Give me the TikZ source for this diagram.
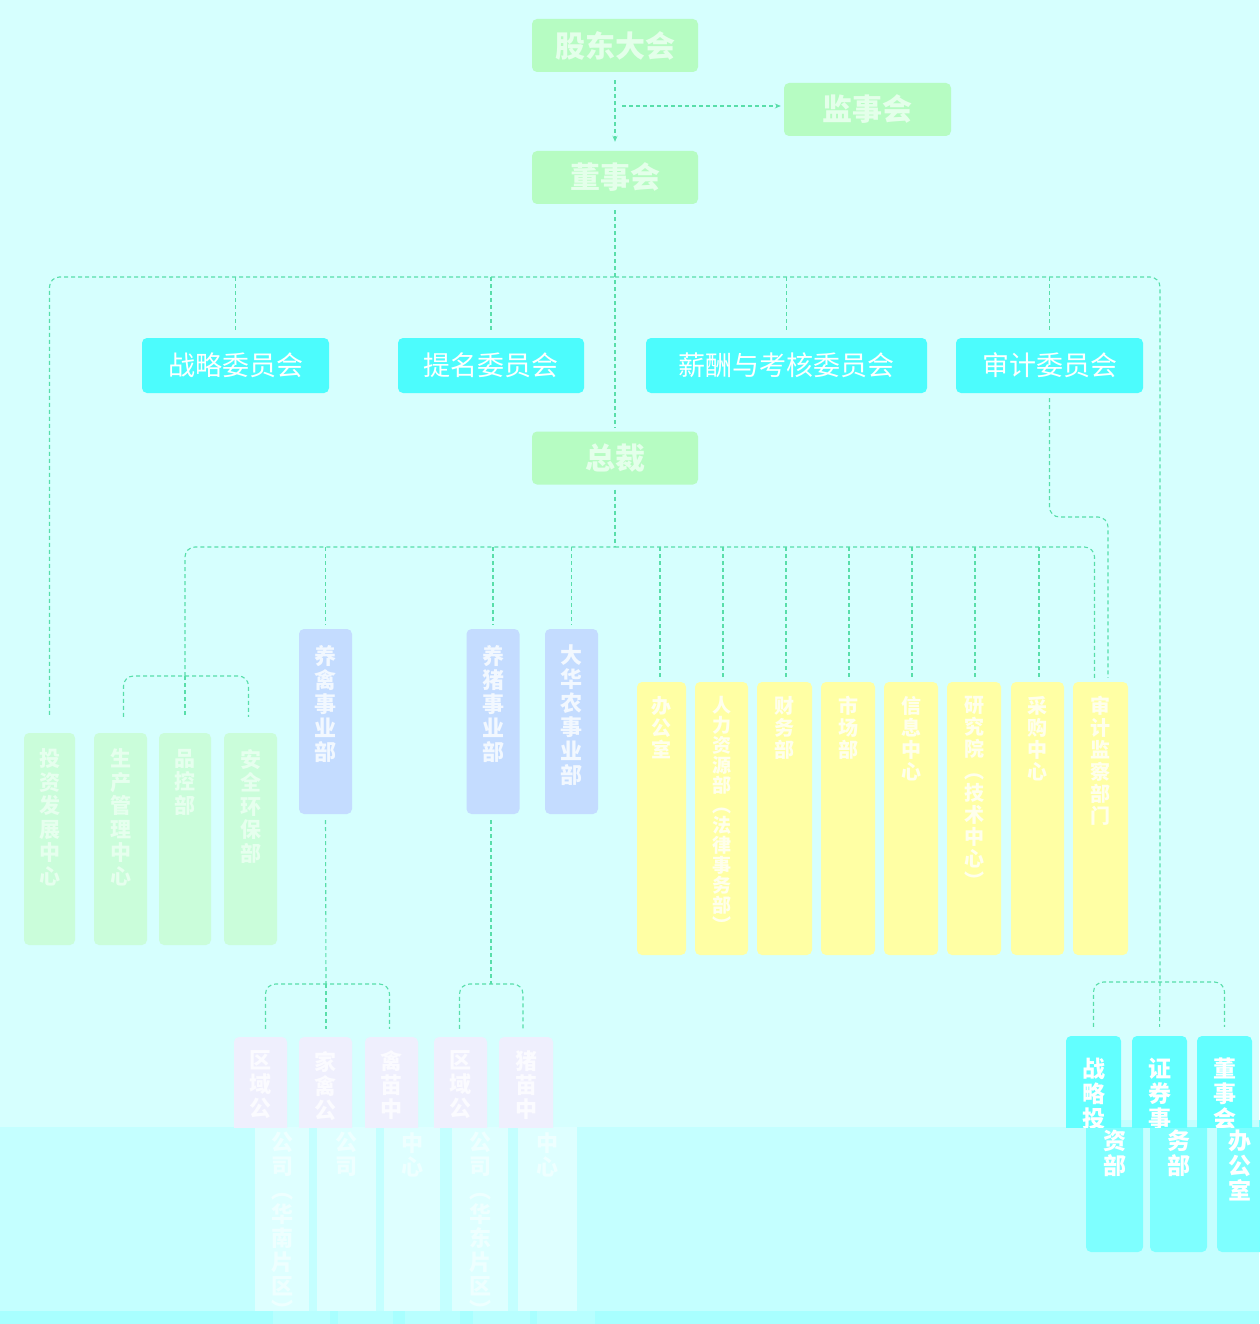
\documentclass[tikz,border=0pt]{standalone}
\usepackage{fontspec}
\setmainfont{Noto Sans CJK SC}
\usetikzlibrary{arrows.meta}
\definecolor{bg}{HTML}{D6FFFE}
\definecolor{bandA}{HTML}{C4FFFF}
\definecolor{bandB}{HTML}{A8FFFF}
\definecolor{bandBpiece}{HTML}{B8FFFF}
\definecolor{topgreen}{HTML}{B6FCC2}
\definecolor{toptext}{HTML}{E4FFEA}
\definecolor{comcyan}{HTML}{4CFCFD}
\definecolor{yel}{HTML}{FFFFA4}
\definecolor{yeltext}{HTML}{FFFFEC}
\definecolor{blu}{HTML}{C4DCFF}
\definecolor{blutext}{HTML}{F2F8FF}
\definecolor{palegreen}{HTML}{CAFDDA}
\definecolor{palegreentext}{HTML}{E6FFEE}
\definecolor{pinkbox}{HTML}{EFEFFD}
\definecolor{pinktext}{HTML}{FBFBFF}
\definecolor{pinklow}{HTML}{DEFFFF}
\definecolor{pinklowtext}{HTML}{EEFFFF}
\definecolor{cyantop}{HTML}{62FFFF}
\definecolor{cyanlow}{HTML}{7EFFFF}
\definecolor{ln}{HTML}{58DEAA}
\begin{document}
\begin{tikzpicture}[x=1pt,y=-1pt,
  box/.style={rectangle, rounded corners=5pt, inner sep=0pt, draw=none},
  topbox/.style={box, fill=topgreen, minimum width=166pt, minimum height=53pt, text=toptext, font=\fontsize{30}{32}\selectfont\bfseries},
  combox/.style={box, fill=comcyan, minimum height=55pt, text=white, font=\fontsize{27}{30}\selectfont},
  bluebox/.style={box, fill=blu, minimum width=53pt, minimum height=185pt},
  yelbox/.style={box, fill=yel, minimum height=273pt},
  gbox/.style={box, fill=palegreen, minimum height=212pt},
  pbox/.style={box, fill=pinkbox, minimum width=53pt, minimum height=112pt},
  cbox/.style={box, fill=cyantop, minimum width=55pt, minimum height=112pt},
  vt/.style={align=center, inner sep=0pt, anchor=north},
  bluetxt/.style={vt, text=blutext, font=\fontsize{22}{24}\selectfont\bfseries},
  yeltxt/.style={vt, text=yeltext, font=\fontsize{20}{22}\selectfont\bfseries},
  gtxt/.style={vt, text=palegreentext, font=\fontsize{21}{23.5}\selectfont\bfseries},
  ptxt/.style={vt, text=pinktext, font=\fontsize{22}{24}\selectfont\bfseries},
  pltxt/.style={vt, text=pinklowtext, font=\fontsize{22}{24}\selectfont\bfseries},
  ctxt/.style={vt, text=white, font=\fontsize{23}{25}\selectfont\bfseries},
  conn/.style={draw=ln, line width=1.1pt, dash pattern=on 4pt off 3pt, rounded corners=10pt},
  arr/.style={-{Stealth[length=6pt,width=5pt]}}
]
\useasboundingbox (0,0) rectangle (1259,1324);
\fill[bg] (0,0) rectangle (1259,1127);
\fill[bandA] (0,1127) rectangle (1259,1311);
\fill[bandB] (0,1311) rectangle (1259,1324);

% ---------- top level ----------
\node[topbox] (gd) at (615,45.5) {股东大会};
\node[topbox, minimum width=167pt] (jsh) at (867.5,109.5) {监事会};
\node[topbox] (dsh) at (615,177.5) {董事会};
\node[topbox] (zc) at (615,458) {总裁};

% ---------- committees ----------
\node[combox, minimum width=187pt] (c1) at (235.5,365.5) {战略委员会};
\node[combox, minimum width=186pt] (c2) at (491,365.5) {提名委员会};
\node[combox, minimum width=281pt] (c3) at (786.5,365.5) {薪酬与考核委员会};
\node[combox, minimum width=187pt] (c4) at (1049.5,365.5) {审计委员会};

% ---------- business divisions ----------
\node[bluebox] (b1) at (325.5,721.5) {};
\node[bluebox] (b2) at (493,721.5) {};
\node[bluebox] (b3) at (571.5,721.5) {};
\node[bluetxt] (b1t) at ([yshift=-16pt]b1.north) {养\\禽\\事\\业\\部};
\node[bluetxt] (b2t) at ([yshift=-16pt]b2.north) {养\\猪\\事\\业\\部};
\node[bluetxt] (b3t) at ([yshift=-16pt]b3.north) {大\\华\\农\\事\\业\\部};

% ---------- functional departments ----------
\node[yelbox, minimum width=49pt] (y1) at (661.5,818.5) {};
\node[yelbox, minimum width=53pt] (y2) at (721.5,818.5) {};
\node[yelbox, minimum width=55pt] (y3) at (784.5,818.5) {};
\node[yelbox, minimum width=54pt] (y4) at (848,818.5) {};
\node[yelbox, minimum width=54pt] (y5) at (911,818.5) {};
\node[yelbox, minimum width=54pt] (y6) at (974,818.5) {};
\node[yelbox, minimum width=53pt] (y7) at (1037.5,818.5) {};
\node[yelbox, minimum width=55pt] (y8) at (1100.5,818.5) {};
\node[yeltxt] (y1t) at ([yshift=-14pt]y1.north) {办\\公\\室};
\node[yeltxt, font=\fontsize{19}{20}\selectfont\bfseries] (y2t) at ([yshift=-14pt]y2.north) {人\\力\\资\\源\\部\\︵\\法\\律\\事\\务\\部\\︶};
\node[yeltxt] (y3t) at ([yshift=-14pt]y3.north) {财\\务\\部};
\node[yeltxt] (y4t) at ([yshift=-14pt]y4.north) {市\\场\\部};
\node[yeltxt] (y5t) at ([yshift=-14pt]y5.north) {信\\息\\中\\心};
\node[yeltxt] (y6t) at ([yshift=-14pt]y6.north) {研\\究\\院\\︵\\技\\术\\中\\心\\︶};
\node[yeltxt] (y7t) at ([yshift=-14pt]y7.north) {采\\购\\中\\心};
\node[yeltxt] (y8t) at ([yshift=-14pt]y8.north) {审\\计\\监\\察\\部\\门};

% ---------- pale green boxes ----------
\node[gbox, minimum width=51pt] (g1) at (49.5,839) {};
\node[gbox, minimum width=53pt] (g2) at (120.5,839) {};
\node[gbox, minimum width=52pt] (g3) at (185,839) {};
\node[gbox, minimum width=53pt] (g4) at (250.5,839) {};
\node[gtxt] (g1t) at ([yshift=-16pt]g1.north) {投\\资\\发\\展\\中\\心};
\node[gtxt] (g2t) at ([yshift=-16pt]g2.north) {生\\产\\管\\理\\中\\心};
\node[gtxt] (g3t) at ([yshift=-16pt]g3.north) {品\\控\\部};
\node[gtxt] (g4t) at ([yshift=-16pt]g4.north) {安\\全\\环\\保\\部};

% ---------- lower parts (shifted band) ----------
\foreach \xa/\xb in {255/309, 317/376, 384/440, 452/508, 518/577}{
  \fill[pinklow] (\xa,1127) rectangle (\xb,1311);
}
\foreach \xa/\xb in {273/330, 338/393, 405/460, 473/530, 537/595}{
  \fill[bandBpiece] (\xa,1311) rectangle (\xb,1324);
}
\fill[cyanlow, rounded corners=5pt] (1086,1120) rectangle (1143,1252);
\fill[cyanlow, rounded corners=5pt] (1150,1120) rectangle (1207,1252);
\fill[cyanlow, rounded corners=5pt] (1217,1120) rectangle (1270,1252);
\fill[bandA] (1080,1120) rectangle (1259,1127);
\node[pltxt] (q1t) at (282,1132) {公\\司\\︵\\华\\南\\片\\区\\︶};
\node[pltxt] (q2t) at (346.5,1132) {公\\司};
\node[pltxt] (q3t) at (412,1132) {中\\心};
\node[pltxt] (q4t) at (480,1132) {公\\司\\︵\\华\\东\\片\\区\\︶};
\node[pltxt] (q5t) at (547.5,1132) {中\\心};
\node[ctxt] (s1t) at (1114.5,1130) {资\\部};
\node[ctxt] (s2t) at (1178.5,1130) {务\\部};
\node[ctxt] (s3t) at (1240,1130) {办\\公\\室};

% ---------- upper parts, clipped at the band ----------
\begin{scope}
\clip (0,0) rectangle (1259,1127);
\node[pbox] (p1) at (260.5,1093) {};
\node[pbox] (p2) at (325.5,1093) {};
\node[pbox] (p3) at (391.5,1093) {};
\node[pbox] (p4) at (460.5,1093) {};
\node[pbox, minimum width=54pt] (p5) at (526,1093) {};
\node[ptxt] (p1t) at ([yshift=-14pt]p1.north) {区\\域\\公};
\node[ptxt] (p2t) at ([yshift=-14pt]p2.north) {家\\禽\\公};
\node[ptxt] (p3t) at ([yshift=-14pt]p3.north) {禽\\苗\\中};
\node[ptxt] (p4t) at ([yshift=-14pt]p4.north) {区\\域\\公};
\node[ptxt] (p5t) at ([yshift=-14pt]p5.north) {猪\\苗\\中};
\node[cbox] (r1) at (1093.5,1092) {};
\node[cbox] (r2) at (1159.5,1092) {};
\node[cbox] (r3) at (1224.5,1092) {};
\node[ctxt] (r1t) at ([yshift=-22pt]r1.north) {战\\略\\投};
\node[ctxt] (r2t) at ([yshift=-22pt]r2.north) {证\\券\\事};
\node[ctxt] (r3t) at ([yshift=-22pt]r3.north) {董\\事\\会};
\end{scope}

% ---------- connectors ----------
\coordinate (j1) at (615,106);
\draw[conn, arr, shorten <=8pt, shorten >=9pt] (gd.south) -- (dsh.north);
\draw[conn, arr, shorten <=7pt, shorten >=3pt] (j1) -- (j1 -| jsh.west);
\draw[conn, shorten <=6pt, shorten >=3pt] (dsh.south) -- (zc.north);

% board branch
\coordinate (bt) at (615,277);
\coordinate (rb) at (1160,982);
\draw[conn, shorten <=18pt] (g1.north) |- (bt);
\draw[conn] (bt) -| (rb);
\foreach \c in {c1,c2,c3,c4}{
  \draw[conn, shorten >=5pt] (\c.north |- bt) -- (\c.north);
}
% right group
\draw[conn, shorten <=9pt, shorten >=9pt] (r1.north) |- (rb) -| (r3.north);
\draw[conn, shorten >=9pt] (rb) -- (r2.north);

% audit committee to audit dept
\coordinate (aud) at (1108,517);
\draw[conn, shorten <=5pt, shorten >=4pt] (c4.south) |- (aud) -- (aud |- y8.north);

% president branch
\coordinate (zb) at (615,547);
\coordinate (gb) at (185,676);
\draw[conn, shorten <=5pt] (zc.south) -- (zb);
\draw[conn] (gb) |- (zb);
\draw[conn, shorten >=4pt] (zb) -| ([xshift=-6pt]y8.north);
\foreach \b in {b1,b2,b3}{
  \draw[conn, shorten >=4pt] (\b.north |- zb) -- (\b.north);
}
\foreach \b/\dx in {y1/-1.5,y2/1.5,y3/1.5,y4/1,y5/1,y6/1,y7/1.5}{
  \draw[conn, shorten >=4pt] ([xshift=\dx pt]\b.north |- zb) -- ([xshift=\dx pt]\b.north);
}
% green three-box branch
\draw[conn, shorten <=16pt, shorten >=16pt] ([xshift=3pt]g2.north) |- (gb) -| ([xshift=-2pt]g4.north);
\draw[conn, shorten >=16pt] (gb) -- (g3.north);

% poultry division branch
\coordinate (pb1) at (326,984);
\draw[conn, shorten <=6pt] (b1.south) -- (pb1);
\draw[conn, shorten <=8pt, shorten >=8pt] ([xshift=5pt]p1.north) |- (pb1) -| ([xshift=-2pt]p3.north);
\draw[conn, shorten >=8pt] (pb1) -- (p2.north -| pb1);
% pig division branch
\coordinate (pb2) at (491,984);
\draw[conn, shorten <=6pt] (b2.south -| pb2) -- (pb2);
\draw[conn, shorten <=8pt, shorten >=8pt] ([xshift=-1pt]p4.north) |- (pb2) -| ([xshift=-3pt]p5.north);
\end{tikzpicture}
\end{document}
